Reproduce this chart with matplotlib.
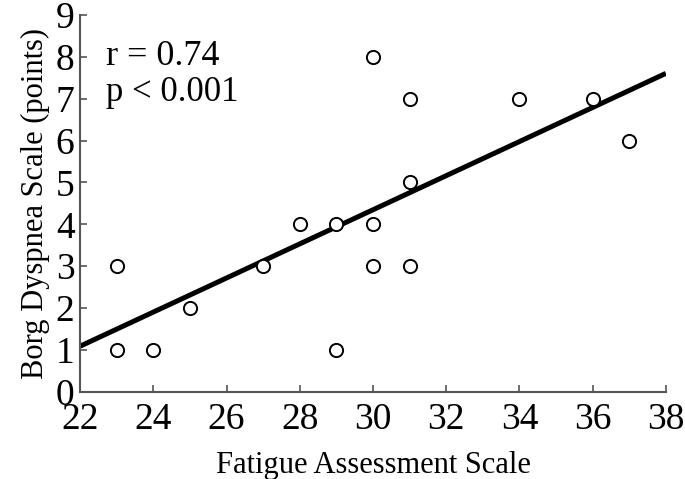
import numpy as np
import matplotlib.pyplot as plt

# Fatigue Assessment Scale vs Borg dyspnea score
fas = [23, 23, 24, 25, 27, 28, 29, 29, 30, 30, 30, 31, 31, 31, 34, 36, 37]
borg = [3, 1, 1, 2, 3, 4, 4, 1, 8, 4, 3, 7, 5, 3, 7, 7, 6]
x_ticks = [22, 24, 26, 28, 30, 32, 34, 36, 38]
y_ticks = [0, 1, 2, 3, 4, 5, 6, 7, 8, 9]
r_text = "r = 0.74"
p_text = "p < 0.001"

plt.rcParams['font.family'] = ['Liberation Serif', 'DejaVu Serif']

fig = plt.figure(figsize=(6.85, 4.79), dpi=100)
ax = fig.add_axes([0.117, 0.182, 0.855, 0.787])

# regression line over the full x range
slope, icpt = np.polyfit(fas, borg, 1)
xs = np.array([x_ticks[0], x_ticks[-1]])
ax.plot(xs, icpt + slope * xs, color='black', lw=3.6, solid_capstyle='butt', zorder=2)

ax.plot(fas, borg, 'o', mfc='white', mec='black', mew=1.4, ms=9.5, zorder=3)

ax.set_xlim(22, 38)
ax.set_ylim(0, 9)
ax.set_xticks(x_ticks)
ax.set_yticks(y_ticks)

for s in ['top', 'right']:
    ax.spines[s].set_visible(False)
for s in ['left', 'bottom']:
    ax.spines[s].set_color('#555555')
    ax.spines[s].set_linewidth(1.5)

ax.tick_params(direction='in', length=5, width=1.2, color='#555555',
               labelsize=27)
ax.tick_params(axis='x', pad=8)
ax.tick_params(axis='y', pad=4)

ax.set_xlabel("Fatigue Assessment Scale", fontsize=22, labelpad=10)
ax.set_ylabel("Borg Dyspnea Scale (points)", fontsize=22, labelpad=4)

ax.text(22.7, 8.0, r_text, fontsize=26, va='center', ha='left')
ax.text(22.7, 7.15, p_text, fontsize=25, va='center', ha='left')

fig.savefig("out.png", dpi=100)
